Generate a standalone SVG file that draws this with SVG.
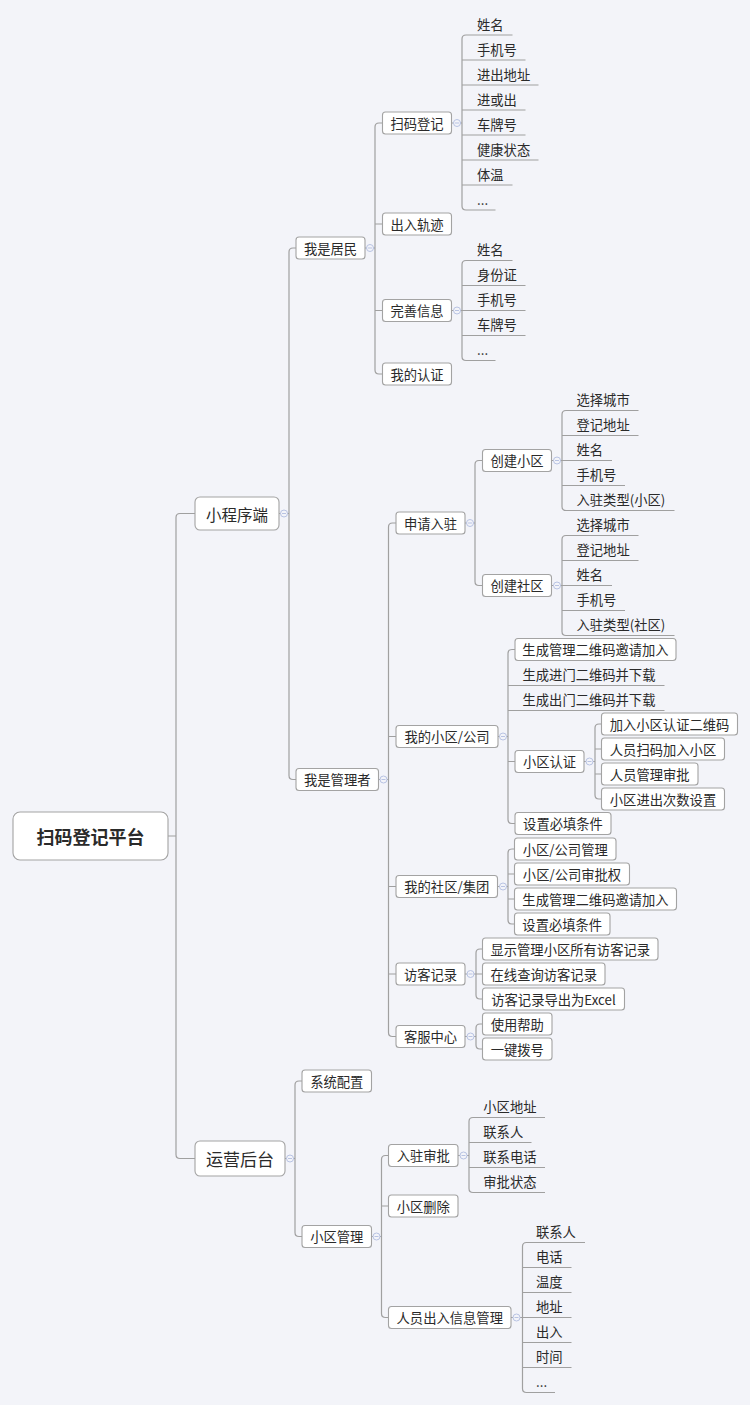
<svg xmlns="http://www.w3.org/2000/svg" width="750" height="1405" viewBox="0 0 750 1405">
<defs>
<style>
.bg{fill:#f3f4f9}
.box{fill:#ffffff;stroke:#a3a3a3;stroke-width:1.1}
.t{font-family:"Noto Sans CJK SC","Microsoft YaHei",sans-serif;font-size:13.3px;fill:#2a2a2a;text-anchor:middle;dominant-baseline:central}
.lt{font-family:"Noto Sans CJK SC","Microsoft YaHei",sans-serif;font-size:13.3px;fill:#2a2a2a;dominant-baseline:central}
.root{font-size:18px;font-weight:bold}
.l1{font-size:15.5px}
.l1b{font-size:17px}
.c path{fill:none;stroke:#a0a0a0;stroke-width:1.2}
.fold circle{fill:#f3f4f9;stroke:#b8c3e3;stroke-width:1}
.fold path{stroke:#b8c3e3;stroke-width:1}
</style>
</defs>
<rect class="bg" x="0" y="0" width="750" height="1405"/>

<g id="connectors" class="c">
<path d="M168,836H176M195,513.5H180Q176,513.5 176,517.5V1154.5Q176,1158.5 180,1158.5H195"/>
<path d="M279,513.5H289M296,248H293Q289,248 289,252V775.5Q289,779.5 293,779.5H296"/>
<path d="M365,248H375M382.5,123H379Q375,123 375,127V370Q375,374 379,374H382.5M375,224H382.5M375,310.5H382.5"/>
<path d="M451.5,123H462M512.5,35H466Q462,35 462,39V206Q462,210 466,210H495.5M462,60H525.5M462,85H538.5M462,110H525.5M462,135H525.5M462,160H538.5M462,185H512.5"/>
<path d="M451.5,310.5H462M512.5,260.5H466Q462,260.5 462,264.5V356.5Q462,360.5 466,360.5H495.5M462,285.5H525.5M462,310.5H525.5M462,335.5H525.5"/>
<path d="M378.5,779.5H388.5M396,523H392.5Q388.5,523 388.5,527V1032.5Q388.5,1036.5 392.5,1036.5H396M388.5,736.5H396M388.5,886.5H396M388.5,974H396"/>
<path d="M465,523H475M482.5,460.5H479Q475,460.5 475,464.5V581.5Q475,585.5 479,585.5H482.5"/>
<path d="M551.5,460.5H562M638.5,410.5H566Q562,410.5 562,414.5V506.5Q562,510.5 566,510.5H674.5M562,435.5H638.5M562,460.5H612M562,485.5H625"/>
<path d="M551.5,585.5H562M638.5,535.5H566Q562,535.5 562,539.5V631.5Q562,635.5 566,635.5H674.5M562,560.5H638.5M562,585.5H612M562,610.5H625"/>
<path d="M498,736.5H508M515,649.5H512Q508,649.5 508,653.5V819.5Q508,823.5 512,823.5H515M508,685.5H664.5M508,710.5H664.5M508,761.5H515"/>
<path d="M584,761.5H595M601.5,724H599Q595,724 595,728V795Q595,799 599,799H601.5M595,749H601.5M595,774H601.5"/>
<path d="M497.5,886.5H508M514.5,849H512Q508,849 508,853V920Q508,924 512,924H514.5M508,874H514.5M508,899H514.5"/>
<path d="M465,974H482.5M482.5,949H480Q476,949 476,953V995Q476,999 480,999H482.5"/>
<path d="M465,1036.5H476M482.5,1024H480Q476,1024 476,1028V1045Q476,1049 480,1049H482.5"/>
<path d="M285,1158.5H295M302,1081H299Q295,1081 295,1085V1232.5Q295,1236.5 299,1236.5H302"/>
<path d="M371.5,1236.5H381.5M388.5,1155.5H385.5Q381.5,1155.5 381.5,1159.5V1313.5Q381.5,1317.5 385.5,1317.5H388.5M381.5,1206H388.5"/>
<path d="M458,1155.5H469M545,1117.5H473Q469,1117.5 469,1121.5V1188.5Q469,1192.5 473,1192.5H545M469,1142.5H531.5M469,1167.5H545"/>
<path d="M511,1317.5H522.5M585,1242.5H526.5Q522.5,1242.5 522.5,1246.5V1388.5Q522.5,1392.5 526.5,1392.5H555M522.5,1267.5H571.5M522.5,1292.5H571.5M522.5,1317.5H571.5M522.5,1342.5H571.5M522.5,1367.5H571.5"/>
</g>

<g id="folds" class="fold">
<g transform="translate(284,513.5)"><circle r="3.5"/><path d="M-2,0H2"/></g>
<g transform="translate(290,1158.5)"><circle r="3.5"/><path d="M-2,0H2"/></g>
<g transform="translate(370,248)"><circle r="3.5"/><path d="M-2,0H2"/></g>
<g transform="translate(383.5,779.5)"><circle r="3.5"/><path d="M-2,0H2"/></g>
<g transform="translate(457,123)"><circle r="3.5"/><path d="M-2,0H2"/></g>
<g transform="translate(457,310.5)"><circle r="3.5"/><path d="M-2,0H2"/></g>
<g transform="translate(470,523)"><circle r="3.5"/><path d="M-2,0H2"/></g>
<g transform="translate(557,460.5)"><circle r="3.5"/><path d="M-2,0H2"/></g>
<g transform="translate(557,585.5)"><circle r="3.5"/><path d="M-2,0H2"/></g>
<g transform="translate(503,736.5)"><circle r="3.5"/><path d="M-2,0H2"/></g>
<g transform="translate(589.5,761.5)"><circle r="3.5"/><path d="M-2,0H2"/></g>
<g transform="translate(503,886.5)"><circle r="3.5"/><path d="M-2,0H2"/></g>
<g transform="translate(470.5,974)"><circle r="3.5"/><path d="M-2,0H2"/></g>
<g transform="translate(470.5,1036.5)"><circle r="3.5"/><path d="M-2,0H2"/></g>
<g transform="translate(376.5,1236.5)"><circle r="3.5"/><path d="M-2,0H2"/></g>
<g transform="translate(463.5,1155.5)"><circle r="3.5"/><path d="M-2,0H2"/></g>
<g transform="translate(516.5,1317.5)"><circle r="3.5"/><path d="M-2,0H2"/></g>
</g>

<g id="n-root"><rect class="box" x="13" y="812" width="155" height="48" rx="7"/><text class="t root" x="90.5" y="836">扫码登记平台</text></g>

<g id="n-miniapp"><rect class="box" x="195" y="497" width="84" height="33" rx="5"/><text class="t l1" x="237" y="513.5">小程序端</text></g>
<g id="n-ops"><rect class="box" x="195" y="1141" width="90" height="35" rx="5"/><text class="t l1b" x="240" y="1158.5">运营后台</text></g>

<g id="n-resident"><rect class="box" x="296" y="237" width="69" height="22" rx="3"/><text class="t" x="330.5" y="248">我是居民</text></g>
<g id="n-manager"><rect class="box" x="296" y="768.5" width="82.5" height="22" rx="3"/><text class="t" x="337.25" y="779.5">我是管理者</text></g>

<g id="n-scan"><rect class="box" x="382.5" y="112" width="69" height="22" rx="3"/><text class="t" x="417" y="123">扫码登记</text></g>
<g id="n-track"><rect class="box" x="382.5" y="213" width="69" height="22" rx="3"/><text class="t" x="417" y="224">出入轨迹</text></g>
<g id="n-info"><rect class="box" x="382.5" y="299.5" width="69" height="22" rx="3"/><text class="t" x="417" y="310.5">完善信息</text></g>
<g id="n-auth"><rect class="box" x="382.5" y="363" width="69" height="22" rx="3"/><text class="t" x="417" y="374">我的认证</text></g>

<g id="leaves-scan">
<text class="lt" x="477" y="24">姓名</text>
<text class="lt" x="477" y="49">手机号</text>
<text class="lt" x="477" y="74">进出地址</text>
<text class="lt" x="477" y="99">进或出</text>
<text class="lt" x="477" y="124">车牌号</text>
<text class="lt" x="477" y="149">健康状态</text>
<text class="lt" x="477" y="174">体温</text>
<text class="lt" x="477" y="199">...</text>
</g>
<g id="leaves-info">
<text class="lt" x="477" y="249.5">姓名</text>
<text class="lt" x="477" y="274.5">身份证</text>
<text class="lt" x="477" y="299.5">手机号</text>
<text class="lt" x="477" y="324.5">车牌号</text>
<text class="lt" x="477" y="349.5">...</text>
</g>

<g id="n-apply"><rect class="box" x="396" y="512" width="69" height="22" rx="3"/><text class="t" x="430.5" y="523">申请入驻</text></g>
<g id="n-mycomm"><rect class="box" x="396" y="725.5" width="102" height="22" rx="3"/><text class="t" x="447" y="736.5">我的小区/公司</text></g>
<g id="n-mygroup"><rect class="box" x="396" y="875.5" width="101.5" height="22" rx="3"/><text class="t" x="446.75" y="886.5">我的社区/集团</text></g>
<g id="n-visitor"><rect class="box" x="396" y="963" width="69" height="22" rx="3"/><text class="t" x="430.5" y="974">访客记录</text></g>
<g id="n-service"><rect class="box" x="396" y="1025.5" width="69" height="22" rx="3"/><text class="t" x="430.5" y="1036.5">客服中心</text></g>

<g id="n-create-xq"><rect class="box" x="482.5" y="449.5" width="69" height="22" rx="3"/><text class="t" x="517" y="460.5">创建小区</text></g>
<g id="n-create-sq"><rect class="box" x="482.5" y="574.5" width="69" height="22" rx="3"/><text class="t" x="517" y="585.5">创建社区</text></g>

<g id="leaves-create-xq">
<text class="lt" x="576.5" y="399.5">选择城市</text>
<text class="lt" x="576.5" y="424.5">登记地址</text>
<text class="lt" x="576.5" y="449.5">姓名</text>
<text class="lt" x="576.5" y="474.5">手机号</text>
<text class="lt" x="576.5" y="499.5">入驻类型(小区)</text>
</g>
<g id="leaves-create-sq">
<text class="lt" x="576.5" y="524.5">选择城市</text>
<text class="lt" x="576.5" y="549.5">登记地址</text>
<text class="lt" x="576.5" y="574.5">姓名</text>
<text class="lt" x="576.5" y="599.5">手机号</text>
<text class="lt" x="576.5" y="624.5">入驻类型(社区)</text>
</g>

<g id="n-gen-admin1"><rect class="box" x="515" y="638.5" width="161" height="22" rx="3"/><text class="t" x="595.5" y="649.5">生成管理二维码邀请加入</text></g>
<g id="leaf-gen-in"><text class="lt" x="522.5" y="674.5">生成进门二维码并下载</text></g>
<g id="leaf-gen-out"><text class="lt" x="522.5" y="699.5">生成出门二维码并下载</text></g>
<g id="n-xq-auth"><rect class="box" x="515" y="750.5" width="69" height="22" rx="3"/><text class="t" x="549.5" y="761.5">小区认证</text></g>
<g id="n-required1"><rect class="box" x="515" y="812.5" width="96" height="22" rx="3"/><text class="t" x="563" y="823.5">设置必填条件</text></g>

<g id="n-auth-qr"><rect class="box" x="601.5" y="713" width="136" height="22" rx="3"/><text class="t" x="669.5" y="724">加入小区认证二维码</text></g>
<g id="n-auth-scan"><rect class="box" x="601.5" y="738" width="123" height="22" rx="3"/><text class="t" x="663" y="749">人员扫码加入小区</text></g>
<g id="n-auth-approve"><rect class="box" x="601.5" y="763" width="96.5" height="22" rx="3"/><text class="t" x="649.75" y="774">人员管理审批</text></g>
<g id="n-auth-count"><rect class="box" x="601.5" y="788" width="123" height="22" rx="3"/><text class="t" x="663" y="799">小区进出次数设置</text></g>

<g id="n-g-manage"><rect class="box" x="514.5" y="838" width="101.5" height="22" rx="3"/><text class="t" x="565.25" y="849">小区/公司管理</text></g>
<g id="n-g-approve"><rect class="box" x="514.5" y="863" width="115" height="22" rx="3"/><text class="t" x="572" y="874">小区/公司审批权</text></g>
<g id="n-gen-admin2"><rect class="box" x="514.5" y="888" width="162" height="22" rx="3"/><text class="t" x="595.5" y="899">生成管理二维码邀请加入</text></g>
<g id="n-required2"><rect class="box" x="514.5" y="913" width="95.5" height="22" rx="3"/><text class="t" x="562.25" y="924">设置必填条件</text></g>

<g id="n-v-all"><rect class="box" x="482.5" y="938" width="175.5" height="22" rx="3"/><text class="t" x="570.25" y="949">显示管理小区所有访客记录</text></g>
<g id="n-v-online"><rect class="box" x="482.5" y="963" width="122.5" height="22" rx="3"/><text class="t" x="543.75" y="974">在线查询访客记录</text></g>
<g id="n-v-export"><rect class="box" x="482.5" y="988" width="142" height="22" rx="3"/><text class="t" x="553.5" y="999">访客记录导出为Excel</text></g>

<g id="n-help"><rect class="box" x="482.5" y="1013" width="69.5" height="22" rx="3"/><text class="t" x="517.25" y="1024">使用帮助</text></g>
<g id="n-dial"><rect class="box" x="482.5" y="1038" width="69.5" height="22" rx="3"/><text class="t" x="517.25" y="1049">一键拨号</text></g>

<g id="n-sysconf"><rect class="box" x="302" y="1070" width="69.5" height="22" rx="3"/><text class="t" x="336.75" y="1081">系统配置</text></g>
<g id="n-xqmanage"><rect class="box" x="302" y="1225.5" width="69.5" height="22" rx="3"/><text class="t" x="336.75" y="1236.5">小区管理</text></g>

<g id="n-join-approve"><rect class="box" x="388.5" y="1144.5" width="69.5" height="22" rx="3"/><text class="t" x="423.25" y="1155.5">入驻审批</text></g>
<g id="n-xq-delete"><rect class="box" x="388.5" y="1195" width="69.5" height="22" rx="3"/><text class="t" x="423.25" y="1206">小区删除</text></g>
<g id="n-person-io"><rect class="box" x="388.5" y="1306.5" width="122.5" height="22" rx="3"/><text class="t" x="449.75" y="1317.5">人员出入信息管理</text></g>

<g id="leaves-join-approve">
<text class="lt" x="483.3" y="1106.5">小区地址</text>
<text class="lt" x="483.3" y="1131.5">联系人</text>
<text class="lt" x="483.3" y="1156.5">联系电话</text>
<text class="lt" x="483.3" y="1181.5">审批状态</text>
</g>
<g id="leaves-person-io">
<text class="lt" x="536" y="1231.5">联系人</text>
<text class="lt" x="536" y="1256.5">电话</text>
<text class="lt" x="536" y="1281.5">温度</text>
<text class="lt" x="536" y="1306.5">地址</text>
<text class="lt" x="536" y="1331.5">出入</text>
<text class="lt" x="536" y="1356.5">时间</text>
<text class="lt" x="536" y="1381.5">...</text>
</g>
</svg>
